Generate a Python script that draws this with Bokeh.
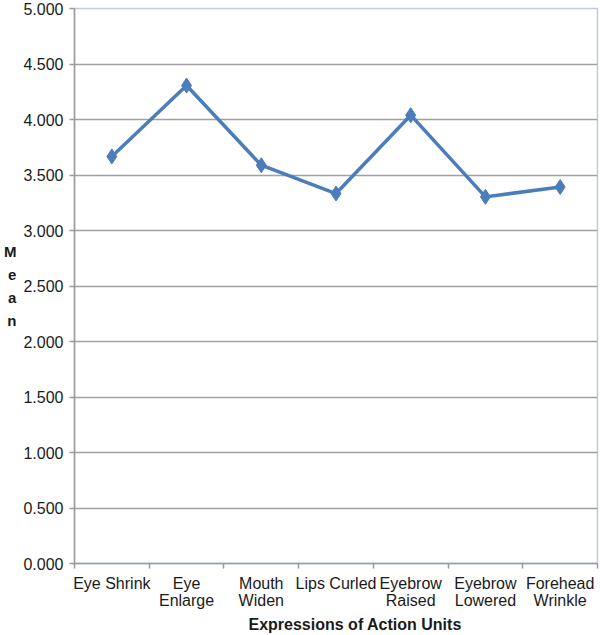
from bokeh.plotting import figure
from bokeh.models import (FixedTicker, NumeralTickFormatter, Range1d, Title, ColumnDataSource)
from bokeh.embed import file_html
from bokeh.resources import INLINE

categories = ["Eye Shrink", "Eye\nEnlarge", "Mouth\nWiden", "Lips Curled",
              "Eyebrow\nRaised", "Eyebrow\nLowered", "Forehead\nWrinkle"]
means = [3.667, 4.306, 3.588, 3.333, 4.039, 3.303, 3.392]
y_ticks = [0.0, 0.5, 1.0, 1.5, 2.0, 2.5, 3.0, 3.5, 4.0, 4.5, 5.0]

FONT = "Liberation Sans"
n = len(categories)
xs = [i + 0.5 for i in range(n)]
src = ColumnDataSource(dict(x=xs, y=means))

p = figure(width=600, height=635, output_backend="svg", toolbar_location=None,
           x_range=Range1d(0, n), y_range=Range1d(0, 5),
           min_border_left=73, min_border_right=3, min_border_top=8, min_border_bottom=72)
p.background_fill_color = "white"
p.border_fill_color = "white"
p.outline_line_color = "#b9cde5"
p.outline_line_width = 1.5

# grid (top edge left to the light-blue plot border)
p.xgrid.visible = False
p.ygrid.ticker = FixedTicker(ticks=y_ticks[:-1])
p.ygrid.grid_line_color = "#a0a0a0"
p.ygrid.grid_line_width = 1.5

# y axis
ya = p.yaxis[0]
ya.ticker = FixedTicker(ticks=y_ticks)
ya.formatter = NumeralTickFormatter(format="0.000")
ya.axis_line_color = "#9a9a9a"
ya.axis_line_width = 1.5
ya.major_tick_line_color = "#9a9a9a"
ya.major_tick_line_width = 1.5
ya.major_tick_out = 5
ya.major_tick_in = 0
ya.minor_tick_line_color = None
ya.major_label_text_font = FONT
ya.major_label_text_font_size = "16px"
ya.major_label_text_color = "#1a1a1a"
ya.major_label_standoff = 6
ya.axis_label = "M\ne\na\nn"
ya.axis_label_orientation = "horizontal"
ya.axis_label_text_font = FONT
ya.axis_label_text_font_size = "15px"
ya.axis_label_text_font_style = "bold"
ya.axis_label_text_color = "#1a1a1a"
ya.axis_label_text_line_height = 1.37
ya.axis_label_standoff = 4

# x axis
xa = p.xaxis[0]
xa.ticker = FixedTicker(ticks=xs, minor_ticks=list(range(n + 1)))
xa.major_label_overrides = {x: c for x, c in zip(xs, categories)}
xa.axis_line_color = "#9a9a9a"
xa.axis_line_width = 1.5
xa.major_tick_line_color = None
xa.minor_tick_line_color = "#9a9a9a"
xa.minor_tick_line_width = 1.5
xa.minor_tick_out = 5
xa.minor_tick_in = 0
xa.major_label_text_font = FONT
xa.major_label_text_font_size = "16px"
xa.major_label_text_color = "#1a1a1a"
xa.major_label_text_line_height = 1.05
xa.major_label_standoff = 5

# x title
p.add_layout(Title(text="Expressions of Action Units", align="left", offset=174,
                   text_font=FONT, text_font_size="16px", text_font_style="bold",
                   text_color="#1a1a1a", standoff=3), "below")

p.line("x", "y", source=src, line_color="#4a7dba", line_width=3.5)
p.scatter("x", "y", source=src, marker="diamond", size=15, fill_color="#4a7dba",
          line_color="#4a7dba")

open("out.html", "w").write(file_html(p, INLINE))
